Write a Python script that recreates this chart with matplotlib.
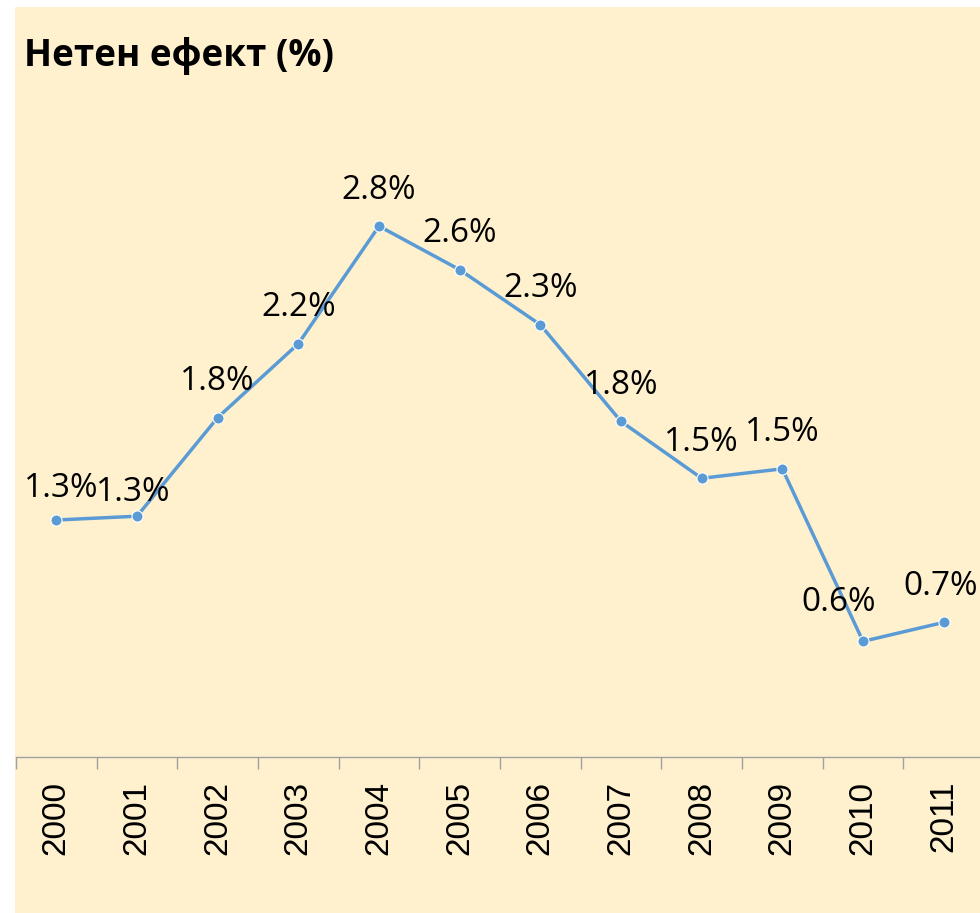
import matplotlib.pyplot as plt
from matplotlib.patches import Rectangle

years = ["2000", "2001", "2002", "2003", "2004", "2005",
         "2006", "2007", "2008", "2009", "2010", "2011"]
net_effect = [1.25, 1.27, 1.79, 2.18, 2.80, 2.57, 2.28, 1.77, 1.47, 1.52, 0.61, 0.71]
labels = ["1.3%", "1.3%", "1.8%", "2.2%", "2.8%", "2.6%",
          "2.3%", "1.8%", "1.5%", "1.5%", "0.6%", "0.7%"]

# label nudges in pixels (dx, dy above point); default is straight above
nudge = {0: (5, 32), 1: (-4, 24), 10: (-24, 39), 11: (-3, 36)}

W, H = 980, 913
fig = plt.figure(figsize=(W / 100, H / 100), dpi=100, facecolor="white")

# chart area background
fig.patches.append(Rectangle((15 / W, 0), 1, 1 - 7 / H, transform=fig.transFigure,
                             facecolor="#FFF1CE", edgecolor="none", zorder=-10))

ax = fig.add_axes([16 / W, 1 - 757 / H, 968 / W, (757 - 93.4) / H])
ax.set_facecolor("none")

x = list(range(len(years)))
ax.plot(x, net_effect, color="#5B9BD5", linewidth=2.5, marker="o",
        markersize=8, markerfacecolor="#5B9BD5", markeredgecolor="white",
        markeredgewidth=0.8, zorder=3, clip_on=False)

for xi, yi, lab in zip(x, net_effect, labels):
    dx, dy = nudge.get(xi, (0, 36))
    ax.annotate(lab, (xi, yi), xytext=(dx * 0.72, dy * 0.72), textcoords="offset points",
                ha="center", va="center", fontsize=24,
                family=["Open Sans", "DejaVu Sans"], color="black", zorder=4)

ax.set_xlim(-0.5, len(years) - 0.5)
ax.set_ylim(0, 3.5)

for s in ["top", "right", "left"]:
    ax.spines[s].set_visible(False)
ax.spines["bottom"].set_color("#A0A0A0")
ax.spines["bottom"].set_linewidth(1)
ax.set_yticks([])

ax.set_xticks(x)
ax.set_xticklabels(years, rotation=90, fontsize=24,
                   family=["Liberation Sans", "DejaVu Sans"])
ax.set_xticks([i - 0.5 for i in range(len(years) + 1)], minor=True)
ax.tick_params(axis="x", which="major", length=0, pad=17)
ax.tick_params(axis="x", which="minor", length=8.6, width=1, color="#A0A0A0")

fig.text(24 / W, 1 - 66 / H, "Нетен ефект (%)", fontsize=26.5, fontweight="bold",
         family=["Open Sans", "DejaVu Sans"], ha="left", va="baseline")

fig.savefig("out.png", dpi=100)
